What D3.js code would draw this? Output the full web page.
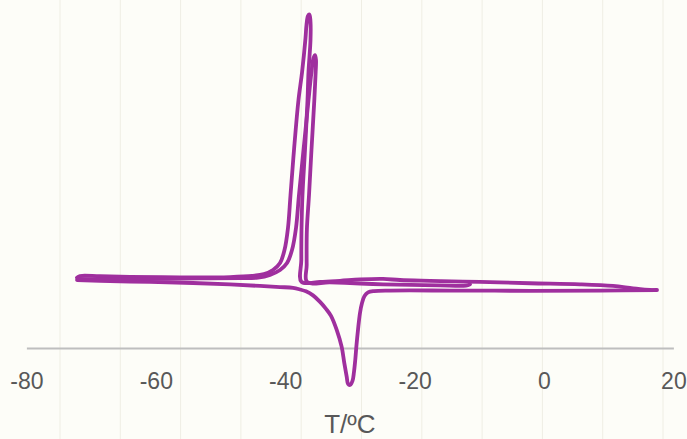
<!DOCTYPE html>
<html>
<head>
<meta charset="utf-8">
<script src="https://cdn.jsdelivr.net/npm/d3@7"></script>
<style>
  html, body { margin: 0; padding: 0; background: #fdfdf8; }
  svg { display: block; }
</style>
</head>
<body>
<svg id="chart" width="687" height="439"></svg>
<script>
// DSC thermogram: heat flow (arbitrary units, exo up) against temperature in °C

// x-axis ticks and title
const xTicks = [-80, -60, -40, -20, 0, 20];
const xTitle = "T/ºC";

// First cooling run: 17 °C down to -72 °C, crystallisation exotherm near -36 °C
const coolingA = [
  [16.38, -0.25], [13.76, -0.19], [10.66, -0.10], [5.56, -0.04], [-2.16, 0.00],
  [-9.89, 0.05], [-17.62, 0.09], [-22.26, 0.12], [-24.88, 0.16], [-28.44, 0.14],
  [-31.53, 0.09], [-34.62, 0.05], [-37.48, 0.05], [-37.51, 0.86], [-37.48, 1.98],
  [-37.33, 3.27], [-36.94, 4.94], [-36.55, 6.79], [-36.40, 7.83], [-36.09, 9.02],
  [-36.09, 9.69], [-36.25, 9.96], [-36.48, 9.91], [-36.71, 9.57], [-36.86, 9.09],
  [-37.39, 7.83], [-37.95, 6.79], [-38.64, 4.94], [-39.18, 3.27], [-39.57, 2.05],
  [-40.11, 1.23], [-40.80, 0.75], [-41.89, 0.49], [-43.28, 0.34], [-45.13, 0.27],
  [-48.53, 0.23], [-56.26, 0.22], [-63.99, 0.24], [-68.62, 0.26], [-71.72, 0.27],
  [-72.18, 0.21]
];

// Heating run: -72 °C up to 17.5 °C, melting endotherm near -30 °C
const heating = [
  [-72.18, 0.12], [-68.62, 0.09], [-60.90, 0.05], [-54.25, 0.01], [-48.53, -0.04],
  [-43.89, -0.10], [-40.80, -0.14], [-38.79, -0.17], [-37.71, -0.23], [-36.79, -0.30],
  [-35.70, -0.45], [-34.62, -0.69], [-33.69, -0.95], [-32.92, -1.21], [-32.04, -1.73],
  [-31.27, -2.36], [-30.87, -2.95], [-30.49, -3.47], [-30.29, -3.73], [-29.98, -3.77],
  [-29.60, -3.62], [-29.37, -3.29], [-29.17, -2.84], [-28.98, -2.29], [-28.75, -1.73],
  [-28.44, -1.10], [-28.13, -0.73], [-27.74, -0.47], [-27.20, -0.34], [-26.28, -0.29],
  [-23.80, -0.27], [-14.53, -0.27], [-2.16, -0.28], [8.66, -0.27], [17.47, -0.25]
];

// Second cooling run: -11 °C down to -72 °C, exotherm near -35 °C
const coolingB = [
  [-11.44, -0.04], [-12.06, -0.09], [-16.07, -0.08], [-20.71, -0.06], [-24.88, -0.04],
  [-28.44, -0.01], [-33.08, 0.03], [-36.63, 0.05], [-36.68, 0.68], [-36.65, 1.98],
  [-36.32, 3.27], [-35.94, 4.94], [-35.50, 6.79], [-35.29, 7.83], [-35.24, 8.28],
  [-35.39, 8.46], [-35.63, 8.35], [-35.94, 7.83], [-36.40, 6.79], [-37.17, 4.94],
  [-37.87, 3.27], [-38.33, 2.05], [-38.95, 1.23], [-39.72, 0.75], [-40.80, 0.49],
  [-42.35, 0.31], [-44.20, 0.21], [-46.99, 0.19], [-53.17, 0.18], [-60.90, 0.16],
  [-68.62, 0.15], [-72.02, 0.16]
];

const runs = [coolingA, heating, coolingB];

const W = 687, H = 439;
const svg = d3.select("#chart");

svg.append("rect").attr("width", W).attr("height", H).attr("fill", "#fdfdf8");

// faint ruled background
svg.append("g")
  .selectAll("line")
  .data(d3.range(60, W, 60.3))
  .join("line")
  .attr("x1", d => d).attr("x2", d => d)
  .attr("y1", 0).attr("y2", H)
  .attr("stroke", "#efeee4")
  .attr("stroke-width", 1);

const x = d3.scaleLinear().domain([-80, 20]).range([26.4, 673.4]);
const y = d3.scaleLinear().domain([-2.4, 10.5]).range([348, 0]);

// x axis
const axis = d3.axisBottom(x)
  .tickValues(xTicks)
  .tickFormat(d => String(d))
  .tickSize(0)
  .tickSizeOuter(0)
  .tickPadding(25);

const gx = svg.append("g")
  .attr("transform", `translate(0,${y(-2.4)})`)
  .call(axis);

gx.select(".domain")
  .attr("stroke", "#bebebe")
  .attr("stroke-width", 2.2);

gx.selectAll(".tick text")
  .attr("fill", "#585858")
  .attr("font-family", "'Liberation Sans', Arial, sans-serif")
  .attr("font-size", 23);

svg.append("text")
  .attr("x", (x(-80) + x(20)) / 2)
  .attr("y", 433)
  .attr("text-anchor", "middle")
  .attr("fill", "#585858")
  .attr("font-family", "'Liberation Sans', Arial, sans-serif")
  .attr("font-size", 26)
  .text(xTitle);

// thermogram traces
const line = d3.line()
  .x(d => x(d[0]))
  .y(d => y(d[1]))
  .curve(d3.curveCatmullRom.alpha(0.5));

svg.append("g")
  .selectAll("path")
  .data(runs)
  .join("path")
  .attr("d", line)
  .attr("fill", "none")
  .attr("stroke", "#9f2f9e")
  .attr("stroke-width", 3.8)
  .attr("stroke-linejoin", "round")
  .attr("stroke-linecap", "round");
</script>
</body>
</html>
